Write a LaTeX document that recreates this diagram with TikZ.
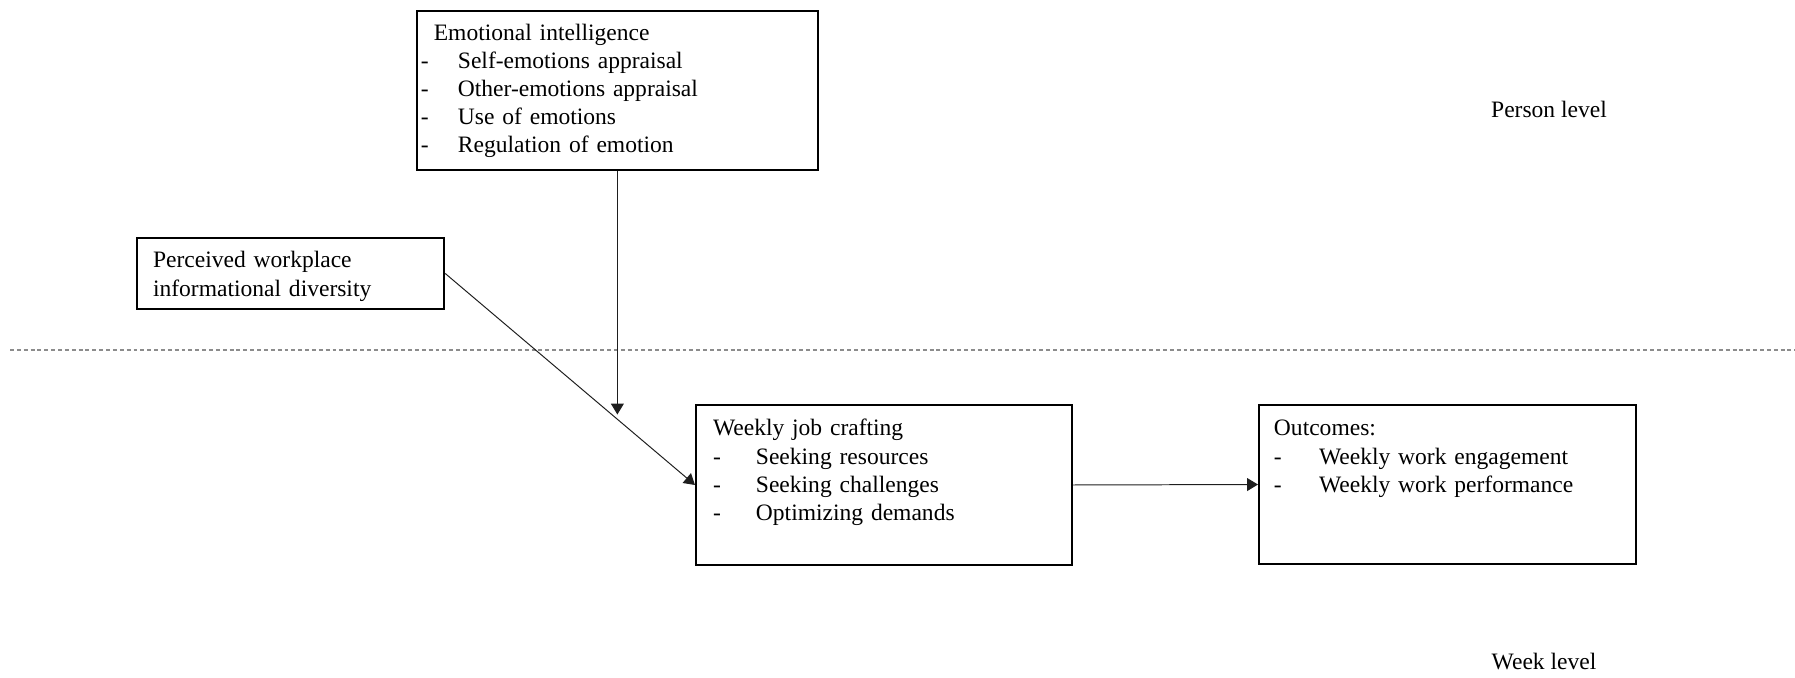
\documentclass[tikz,border=0pt]{standalone}
\usepackage{fontspec}
\setmainfont{Liberation Serif}
\usepackage{tikz}
\usetikzlibrary{arrows.meta,positioning,calc}
\usepackage{xcolor}
\definecolor{lvlgray}{RGB}{140,140,140}
\definecolor{arrgray}{RGB}{30,30,30}
\newcommand{\listdash}[2]{\makebox[#1][l]{-}#2}
\tikzstyle{framebox} = [rectangle, draw=black, line width=1pt, anchor=north west, inner ysep=0pt, align=left, font=\fontsize{12}{14.3}\selectfont]
\tikzstyle{arrow} = [line width=0.5pt, draw=arrgray, -{Triangle[length=5.5pt,width=6.5pt]}]
\tikzstyle{levellabel} = [anchor=base, inner sep=0pt, font=\fontsize{12}{14.3}\selectfont]

\begin{document}
\begin{tikzpicture}[x=0.51pt, y=-0.51pt]
\useasboundingbox (0,0) rectangle (1795,677);

% Person level boxes
\node[framebox, inner xsep=2pt, text width=200.4pt, text height=14.8pt, text depth=66.3pt] (ei) at (416,10)
  {\hspace*{6.6pt}Emotional intelligence\\
   \listdash{18.9pt}{Self-emotions appraisal}\\
   \listdash{18.9pt}{Other-emotions appraisal}\\
   \listdash{18.9pt}{Use of emotions}\\
   \listdash{18.9pt}{Regulation of emotion}};

\node[framebox, inner xsep=8.2pt, text width=140.3pt, text height=15.3pt, text depth=20.9pt] (pwid) at (136,237)
  {Perceived workplace\\informational diversity};

\node[levellabel] (person) at (1549,117) {Person level};

% Level separator
\draw[lvlgray, line width=0.6pt, dash pattern=on 2pt off 1.5pt] (10,350) -- (1795,350);

% Week level boxes
\node[framebox, inner xsep=8.7pt, text width=174.4pt, text height=15.8pt, text depth=65.8pt] (wjc) at (695,404)
  {Weekly job crafting\\
   \listdash{21.9pt}{Seeking resources}\\
   \listdash{21.9pt}{Seeking challenges}\\
   \listdash{21.9pt}{Optimizing demands}};

\node[framebox, inner xsep=7.65pt, text width=177pt, text height=15.8pt, text depth=65.3pt] (out) at (1258,404)
  {Outcomes:\\
   \listdash{23pt}{Weekly work engagement}\\
   \listdash{23pt}{Weekly work performance}};

\node[levellabel] (week) at (1544,669) {Week level};

% Paths
\coordinate (mod) at ($(pwid.east)!0.69!(wjc.west)$);
\draw[arrow] (pwid.east) -- (wjc.west);
\draw[arrow, shorten >=2.5pt] (ei.south) -- (ei.south |- mod);
\draw[arrow] (wjc.east) -- (out.west);
\end{tikzpicture}
\end{document}
